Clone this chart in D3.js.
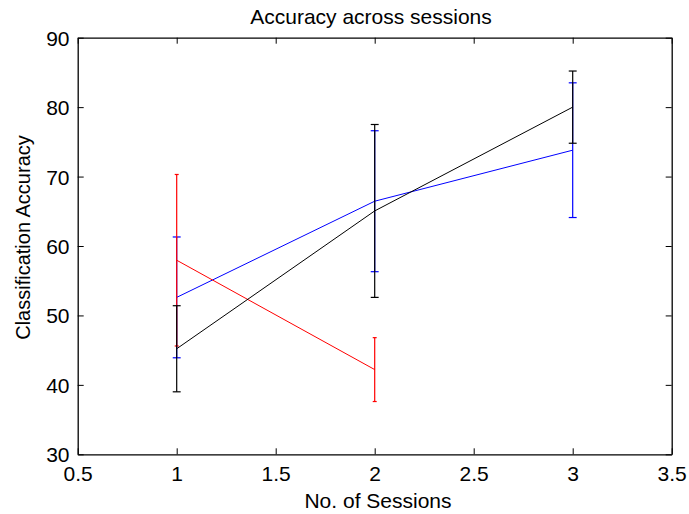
<!DOCTYPE html>
<html><head><meta charset="utf-8">
<script src="https://cdn.jsdelivr.net/npm/d3@7"></script>
<style>body{margin:0;background:#fff}svg{display:block}text{font-family:"Liberation Sans",Arial,Helvetica,sans-serif;fill:#000}</style>
</head><body>
<script>
const sessions = [1, 2, 3];
const blueMean = [52.6, 66.45, 73.8];
const blueErr = [8.7, 10.15, 9.7];
const redSessions = [1, 2];
const redMean = [57.95, 42.2];
const redErr = [12.35, 4.6];
const blackMean = [45.2, 65.05, 80.0];
const blackErr = [6.2, 12.45, 5.2];
const xTicks = [0.5, 1, 1.5, 2, 2.5, 3, 3.5];
const yTicks = [30, 40, 50, 60, 70, 80, 90];

const W = 689, H = 514;
const L = 77.7, R = 671.7, T = 37.7, B = 454.3;
const svg = d3.select("body").append("svg").attr("width", W).attr("height", H);
const x = d3.scaleLinear().domain([0.5, 3.5]).range([L, R]);
const y = d3.scaleLinear().domain([30, 90]).range([B, T]);
const tickLen = 6, fs = 21;

// axes (MATLAB style: inward ticks, box with mirrored ticks)
const axB = svg.append("g").attr("transform", `translate(0,${B})`)
  .call(d3.axisBottom(x).tickValues(xTicks).tickFormat(d3.format("")).tickSizeInner(-tickLen).tickSizeOuter(0).tickPadding(13));
const axT = svg.append("g").attr("transform", `translate(0,${T})`)
  .call(d3.axisTop(x).tickValues(xTicks).tickFormat("").tickSizeInner(-tickLen).tickSizeOuter(0));
const axL = svg.append("g").attr("transform", `translate(${L},0)`)
  .call(d3.axisLeft(y).tickValues(yTicks).tickFormat(d3.format("")).tickSizeInner(-tickLen).tickSizeOuter(0).tickPadding(8));
const axR = svg.append("g").attr("transform", `translate(${R},0)`)
  .call(d3.axisRight(y).tickValues(yTicks).tickFormat("").tickSizeInner(-tickLen).tickSizeOuter(0));
[axB, axT, axL, axR].forEach(g => {
  g.select(".domain").attr("stroke", "#000").attr("stroke-width", 1.3);
  g.selectAll(".tick line").attr("stroke", "#000").attr("stroke-width", 1);
  g.selectAll("text").attr("font-size", fs).attr("font-family", null).attr("fill", "#000");
});
axB.selectAll("text").attr("dy", null).attr("y", null).attr("transform", "translate(0,26.7)");
axL.selectAll("text").attr("dy", "0.36em").attr("x", -8.2);

// series
function drawSeries(xs, means, errs, color) {
  const g = svg.append("g");
  const tee = (d3.max(xs) - d3.min(xs)) / 100;
  const line = d3.line().x((d, i) => x(xs[i])).y(d => y(d));
  g.append("path").attr("d", line(means)).attr("fill", "none").attr("stroke", color).attr("stroke-width", 1);
  means.forEach((m, i) => {
    const xi = xs[i], lo = m - errs[i], hi = m + errs[i];
    g.append("line").attr("x1", x(xi)).attr("x2", x(xi)).attr("y1", y(lo)).attr("y2", y(hi))
      .attr("stroke", color).attr("stroke-width", 1.2);
    [lo, hi].forEach(v => {
      g.append("line").attr("x1", x(xi - tee)).attr("x2", x(xi + tee)).attr("y1", y(v)).attr("y2", y(v))
        .attr("stroke", color).attr("stroke-width", 1.2);
    });
  });
}
drawSeries(sessions, blueMean, blueErr, "#0000ff");
drawSeries(redSessions, redMean, redErr, "#ff0000");
drawSeries(sessions, blackMean, blackErr, "#000000");

// labels
svg.append("text").attr("x", 371).attr("y", 24.3).attr("text-anchor", "middle").attr("font-size", 21).text("Accuracy across sessions");
svg.append("text").attr("x", 378).attr("y", 507.7).attr("text-anchor", "middle").attr("font-size", 21).text("No. of Sessions");
svg.append("text").attr("transform", "translate(30,237.5) rotate(-90)").attr("text-anchor", "middle").attr("font-size", 20).text("Classification Accuracy");
</script>
</body></html>
